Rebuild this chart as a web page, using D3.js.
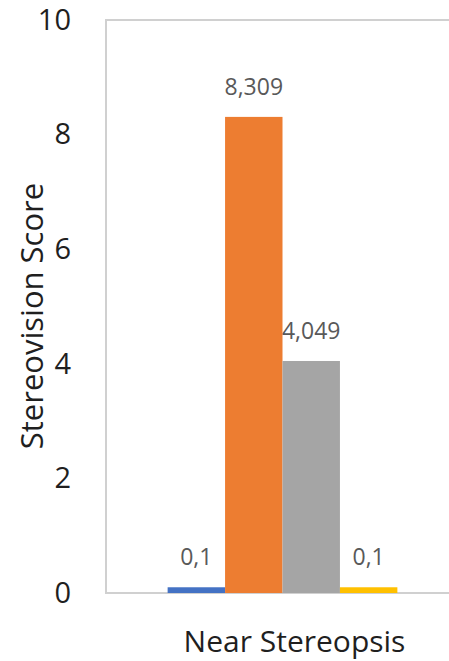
<!DOCTYPE html>
<html>
<head>
<meta charset="utf-8">
<script src="https://cdn.jsdelivr.net/npm/d3@7"></script>
<style>
  body { margin: 0; background: #fff; }
  text { font-family: "Open Sans", sans-serif; }
</style>
</head>
<body>
<script>
const categories = ["Near Stereopsis"];
const seriesNames = ["Series 1", "Series 2", "Series 3", "Series 4"];
const seriesValues = [0.1, 8.309, 4.049, 0.1];
const valueLabels = ["0,1", "8,309", "4,049", "0,1"];
const yTicks = [0, 2, 4, 6, 8, 10];
const colors = ["#4472C4", "#ED7D31", "#A5A5A5", "#FFC000"];

const w = 449;
const h = 661;
const margin = { top: 20, left: 106, bottom: 68 };
const plotRight = 459;

const svg = d3.select("body")
    .append("svg")
    .attr("width", w)
    .attr("height", h);

// Scales
const x0 = d3.scaleBand()
    .domain(categories)
    .range([margin.left, plotRight]);
const x1 = d3.scaleBand()
    .domain(seriesNames)
    .range([0, x0.bandwidth()])
    .paddingOuter(1.073);
const y = d3.scaleLinear()
    .domain([0, 10])
    .range([h - margin.bottom, margin.top]);

// plot frame (right edge runs off the picture)
svg.append("rect")
    .attr("x", margin.left)
    .attr("y", y(10))
    .attr("width", plotRight - margin.left)
    .attr("height", y(0) - y(10))
    .attr("fill", "none")
    .attr("stroke", "#d0d0d0")
    .attr("stroke-width", 2);

// y axis labels
const yAxis = d3.axisLeft(y).tickValues(yTicks).tickSize(0).tickPadding(35);
svg.append("g")
    .attr("transform", "translate(" + margin.left + ",0)")
    .call(yAxis)
    .call(g => g.select(".domain").remove())
    .selectAll("text")
    .style("font-family", "'Open Sans', sans-serif")
    .style("font-size", "29px")
    .attr("fill", "#1f1f1f");

// bars
const group = svg.append("g")
    .attr("transform", "translate(" + x0(categories[0]) + ",0)");

group.selectAll("rect")
    .data(seriesValues)
    .enter()
    .append("rect")
    .attr("x", (d, i) => x1(seriesNames[i]))
    .attr("y", d => y(d))
    .attr("width", x1.bandwidth())
    .attr("height", d => y(0) - y(d))
    .attr("fill", (d, i) => colors[i]);

// value labels
group.selectAll(".val")
    .data(seriesValues)
    .enter()
    .append("text")
    .attr("class", "val")
    .attr("x", (d, i) => x1(seriesNames[i]) + x1.bandwidth() / 2)
    .attr("y", d => y(d) - 22)
    .attr("text-anchor", "middle")
    .style("font-size", "23px")
    .attr("fill", "#595959")
    .text((d, i) => valueLabels[i]);

// category label
svg.append("text")
    .attr("x", x0(categories[0]) + x0.bandwidth() / 2 + 12)
    .attr("y", 652)
    .attr("text-anchor", "middle")
    .style("font-size", "30px")
    .attr("fill", "#1f1f1f")
    .text(categories[0]);

// y title
svg.append("text")
    .attr("transform", "translate(43," + 316 + ") rotate(-90)")
    .attr("text-anchor", "middle")
    .style("font-size", "31px")
    .attr("fill", "#1f1f1f")
    .text("Stereovision Score");
</script>
</body>
</html>
